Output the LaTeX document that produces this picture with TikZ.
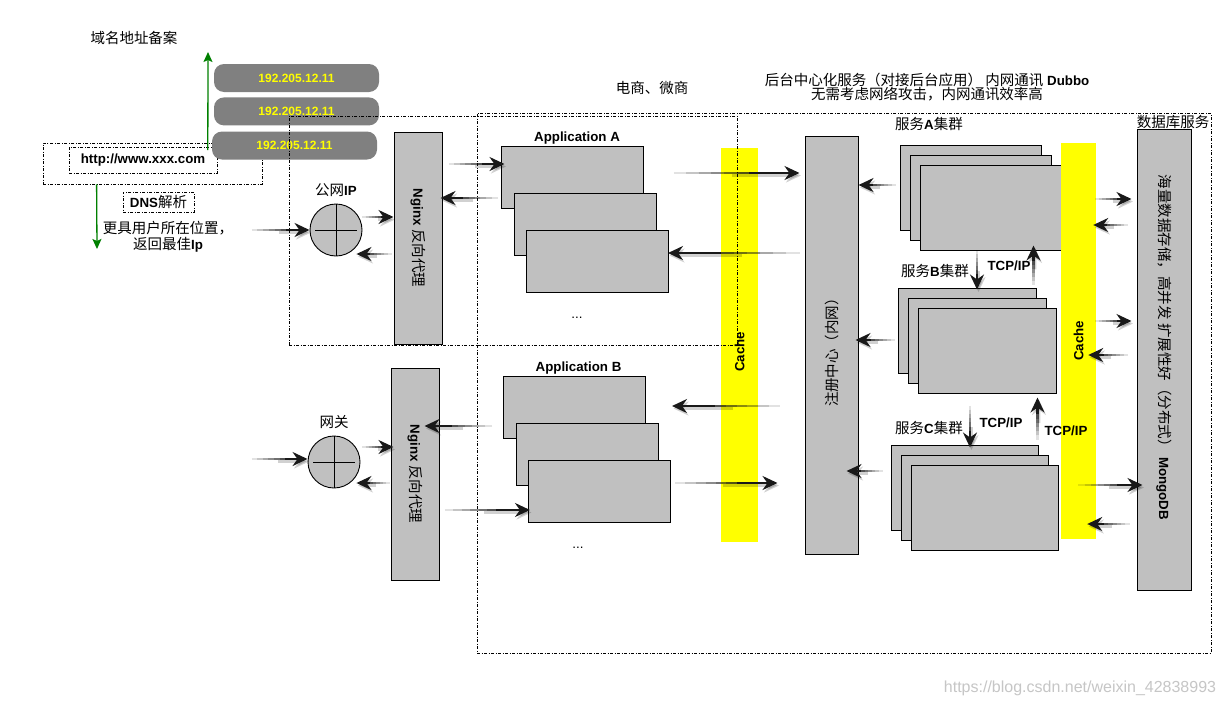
\documentclass[tikz,border=0pt]{standalone}
\usepackage{fontspec}
\setmainfont{Liberation Sans}
\newfontfamily\cjk[Scale=1.09]{Noto Sans CJK SC}
\usepackage{tikz}
\usetikzlibrary{arrows.meta,positioning,fit,shapes,calc,decorations.pathreplacing}

\definecolor{boxgray}{RGB}{192,192,192}
\definecolor{pillgray}{RGB}{128,128,128}
\definecolor{dnsgreen}{RGB}{0,128,0}
\definecolor{cacheyellow}{RGB}{255,255,0}

\begin{document}
\begin{tikzpicture}
	[ x=1pt, y=-1pt, node distance=4pt and 10pt,
		every node/.style={font=\fontsize{13.3}{15}\selectfont},
		construct/.style={rectangle,draw,fill=boxgray,line width=1pt,inner sep=0pt},
		appbox/.style={construct,minimum width=142pt,minimum height=62pt},
		service/.style={construct,minimum height=85pt},
		column/.style={construct,minimum width=48pt,minimum height=212pt},
		cachebar/.style={rectangle,fill=cacheyellow,inner sep=0pt},
		tag/.style={inner sep=1pt},
		ipnode/.style={circle,draw,fill=boxgray,line width=0.9pt,minimum size=52pt,inner sep=0pt,
			path picture={\draw[line width=0.9pt] (path picture bounding box.north) -- (path picture bounding box.south)
				([xshift=5pt]path picture bounding box.west) -- ([xshift=-5pt]path picture bounding box.east);}},
		pill/.style={rectangle,rounded corners=10pt,fill=pillgray,text=cacheyellow,minimum width=165pt,minimum height=28pt,
			font=\fontsize{12}{12}\selectfont\bfseries},
		frame/.style={draw,line width=0.8pt,dash pattern=on 3pt off 1.5pt on 1pt off 1.5pt,inner sep=0pt},
		flowtip/.style={-{Stealth[length=15pt,width=14pt,inset=5pt]}},
		flow/.style={draw=none,postaction={decorate,decoration={show path construction,
			lineto code={
				\draw[flowtip,line width=2.8pt,draw=black,draw opacity=0.18,fill opacity=0.18,shift={(1.5pt,-2.5pt)}]
					($(\tikzinputsegmentfirst)!0.45!(\tikzinputsegmentlast)$) -- (\tikzinputsegmentlast);
				\foreach \k in {0,...,5}
					\draw[line width=2.2pt,draw=black!90,draw opacity=(\k+1)/8]
						($(\tikzinputsegmentfirst)!\k/10!(\tikzinputsegmentlast)$) -- ($(\tikzinputsegmentfirst)!\k/10+0.1!(\tikzinputsegmentlast)$);
				\draw[flowtip,line width=2.2pt,draw=black!90]
					($(\tikzinputsegmentfirst)!0.6!(\tikzinputsegmentlast)$) -- (\tikzinputsegmentlast);}}}},
		dnsArrow/.style={-{Stealth[length=10pt,width=9pt,inset=2pt]},line width=1.3pt,draw=dnsgreen}]

	\path[use as bounding box,fill=white] (0,0) rectangle (1225,707);

	\node[tag] (filing) at (134,38) {\cjk 域名地址备案};
	\node[frame,minimum width=219pt,minimum height=41pt] (url frame) at (152.5,163.5) {};
	\node[frame,minimum width=148pt,minimum height=26pt] (url) at (143,160) {\textbf{http://www.xxx.com}};
	\node[frame,minimum width=71pt,minimum height=20pt] (dns) at (158.5,202) {\textbf{DNS}{\cjk 解析}};
	\node[tag,align=center,font=\fontsize{13.3}{16}\selectfont] (best ip) at (168,237) {{\cjk 更具用户所在位置，}\\{\cjk 返回最佳}\textbf{Ip}};

	\node[pill] (ip1) at (296.5,78) {192.205.12.11};
	\node[pill] (ip2) [below=5pt of ip1] {192.205.12.11};
	\node[pill] (ip3) at (294.5,145.5) {192.205.12.11};

	\coordinate (filing tip) at (208,52);
	\coordinate (lookup tip) at (97,249);
	\draw[dnsArrow] ([xshift=-4pt,yshift=-4.5pt]ip3.west) -- (filing tip);
	\draw[dnsArrow] ([xshift=54pt]url frame.south west) -- (lookup tip);

	\node[ipnode] (ip a) at (336,230) {};
	\node[tag] (ip a label) [above=6pt of ip a] {{\cjk 公网}\textbf{IP}};
	\node[column] (nginx a) at (418,238) {};
	\node[tag,rotate=-90] (nginx a text) at (nginx a) {\textbf{Nginx} {\cjk 反向代理}};

	\node[ipnode] (ip b) at (334,462) {};
	\node[tag] (ip b label) [above=6pt of ip b] {\cjk 网关};
	\node[column] (nginx b) at (415,474) {};
	\node[tag,rotate=-90] (nginx b text) at (nginx b) {\textbf{Nginx} {\cjk 反向代理}};

	\node[appbox] (app a1) at (572,177) {};
	\node[appbox] (app a2) at ([shift={(13.5,47)}]app a1) {};
	\node[appbox] (app a3) at ([shift={(12,37)}]app a2) {};
	\node[tag,xshift=5pt] (app a label) [above=0pt of app a1] {\textbf{Application A}};
	\node[tag] (more a) at (577,318) {...};

	\node[appbox] (app b1) at (574.5,407) {};
	\node[appbox] (app b2) at ([shift={(13,47)}]app b1) {};
	\node[appbox] (app b3) at ([shift={(12,37)}]app b2) {};
	\node[tag,xshift=4pt] (app b label) [above=0pt of app b1] {\textbf{Application B}};
	\node[tag] (more b) at (578,548) {...};

	\node[tag] (shop) at (652,88) {\cjk 电商、微商};
	\node[tag,align=center,font=\fontsize{13.3}{14}\selectfont] (backend note) at (927,87)
		{{\cjk 后台中心化服务（对接后台应用） 内网通讯} \textbf{Dubbo}\\{\cjk 无需考虑网络攻击，内网通讯效率高}};

	\node[cachebar,minimum width=37pt,minimum height=394pt] (cache a) at (739.5,345) {};
	\node[tag,rotate=90] (cache a text) at ([yshift=-7pt]cache a.center) {\textbf{Cache}};

	\node[construct,minimum width=53pt,minimum height=418pt] (registry) at (831.5,345) {};
	\node[tag,rotate=90] (registry text) at ([yshift=-4pt]registry.center) {\cjk 注册中心（内网）};

	\node[service,minimum width=141pt] (service a1) at (970.5,187.5) {};
	\node[service,minimum width=141pt] (service a2) at ([shift={(10,10)}]service a1) {};
	\node[service,minimum width=141pt] (service a3) at ([shift={(10,10)}]service a2) {};
	\node[tag] (service a label) at (929,124) {{\cjk 服务}\textbf{A}{\cjk 集群}};

	\node[service,minimum width=138pt] (service b1) at (967,330.5) {};
	\node[service,minimum width=138pt] (service b2) at ([shift={(10,10)}]service b1) {};
	\node[service,minimum width=138pt] (service b3) at ([shift={(10,10)}]service b2) {};
	\node[tag] (service b label) at (935,271) {{\cjk 服务}\textbf{B}{\cjk 集群}};

	\node[service,minimum width=147pt] (service c1) at (964.5,487.5) {};
	\node[service,minimum width=147pt] (service c2) at ([shift={(10,10)}]service c1) {};
	\node[service,minimum width=147pt] (service c3) at ([shift={(10,10)}]service c2) {};
	\node[tag] (service c label) at (929,428) {{\cjk 服务}\textbf{C}{\cjk 集群}};

	\node[cachebar,minimum width=35pt,minimum height=396pt] (cache b) at (1078.5,341) {};
	\node[tag,rotate=90] (cache b text) at (cache b) {\textbf{Cache}};

	\node[tag] (tcp ab) at (1009,266) {\textbf{TCP/IP}};
	\node[tag] (tcp bc) at (1001,423) {\textbf{TCP/IP}};
	\node[tag] (tcp cb) at (1066,431) {\textbf{TCP/IP}};

	\node[construct,minimum width=54pt,minimum height=461pt] (db) at (1164,359.5) {};
	\node[tag,rotate=-90] (db text) at ([yshift=12pt]db.center) {{\cjk 海量数据存储，高并发 扩展性好（分布式）} \textbf{MongoDB}};
	\node[tag] (db label) at (1173,122) {\cjk 数据库服务};

	\draw[flow] ([xshift=-58pt]ip a.west) -- (ip a.west);
	\draw[flow] ([yshift=13pt]ip a.east) -- ([yshift=21pt]nginx a.west);
	\draw[flow] ([xshift=-2pt,yshift=-16pt]nginx a.west) -- ([xshift=-6pt,yshift=-24pt]ip a.east);
	\draw[flow] ([xshift=6pt,yshift=74pt]nginx a.east) -- ([xshift=4pt,yshift=13pt]app a1.west);
	\draw[flow] ([xshift=-3pt,yshift=-21pt]app a1.west) -- ([xshift=-2pt,yshift=40pt]nginx a.east);
	\draw[flow] ([xshift=-5pt,yshift=92pt]registry.west) -- ([xshift=-1pt,yshift=8pt]app a3.east);
	\draw[flow] ([xshift=30pt,yshift=4pt]app a1.east) -- ([xshift=-5pt,yshift=172pt]registry.west);

	\draw[flow] ([xshift=-56pt,yshift=3pt]ip b.west) -- ([yshift=3pt]ip b.west);
	\draw[flow] ([xshift=2pt,yshift=15pt]ip b.east) -- ([xshift=3pt,yshift=27pt]nginx b.west);
	\draw[flow] ([xshift=-1pt,yshift=-9pt]nginx b.west) -- ([xshift=-4pt,yshift=-21pt]ip b.east);
	\draw[flow] ([xshift=-11pt,yshift=-19pt]app b1.west) -- ([xshift=-15pt,yshift=48pt]nginx b.east);
	\draw[flow] ([xshift=5pt,yshift=-36pt]nginx b.east) -- ([xshift=2pt,yshift=-19pt]app b3.west);
	\draw[flow] ([xshift=-25pt,yshift=-61pt]registry.west) -- ([xshift=26pt,yshift=1pt]app b1.east);
	\draw[flow] ([xshift=4pt,yshift=8pt]app b3.east) -- ([xshift=-27pt,yshift=-138pt]registry.west);

	\draw[flow] ([xshift=-4pt,yshift=2.5pt]service a1.west) -- ([yshift=160pt]registry.east);
	\draw[flow] ([xshift=-3pt,yshift=-9.5pt]service b1.west) -- ([xshift=-3pt,yshift=5pt]registry.east);
	\draw[flow] ([xshift=-8pt,yshift=16.5pt]service c1.west) -- ([xshift=-12pt,yshift=-126pt]registry.east);
	\draw[flow] ([xshift=-13.5pt]service a3.south) -- ([xshift=10pt,yshift=-2pt]service b1.north);
	\draw[flow] ([xshift=-3pt,yshift=3pt]service b1.north east) -- ([xshift=-28pt,yshift=5pt]service a3.south east);
	\draw[flow] ([xshift=-17pt,yshift=-12pt]service b3.south) -- ([xshift=5.5pt,yshift=-3pt]service c1.north);
	\draw[flow] ([xshift=-1pt,yshift=5pt]service c1.north east) -- ([xshift=-19pt,yshift=-4pt]service b3.south east);

	\draw[flow] ([xshift=-1pt,yshift=142pt]cache b.east) -- ([xshift=-5pt,yshift=160.5pt]db.west);
	\draw[flow] ([xshift=-9pt,yshift=134.5pt]db.west) -- ([xshift=-3pt,yshift=116pt]cache b.east);
	\draw[flow] ([xshift=-1pt,yshift=20pt]cache b.east) -- ([xshift=-5pt,yshift=38.5pt]db.west);
	\draw[flow] ([xshift=-9pt,yshift=4.5pt]db.west) -- ([xshift=-8pt,yshift=-14pt]cache b.east);
	\draw[flow] ([xshift=-18pt,yshift=-144pt]cache b.east) -- ([xshift=6pt,yshift=-125.5pt]db.west);
	\draw[flow] ([xshift=-7pt,yshift=-164.5pt]db.west) -- ([xshift=-9pt,yshift=-183pt]cache b.east);

	\node[frame,minimum width=448pt,minimum height=229pt] (public zone) at (513,230.5) {};
	\node[frame,minimum width=734pt,minimum height=540pt] (backend zone) at (844,383) {};

	\node[tag,text=gray!45,font=\fontsize{16}{16}\selectfont] (watermark) at (1080,688) {https://blog.csdn.net/weixin\_42838993};
\end{tikzpicture}
\end{document}
